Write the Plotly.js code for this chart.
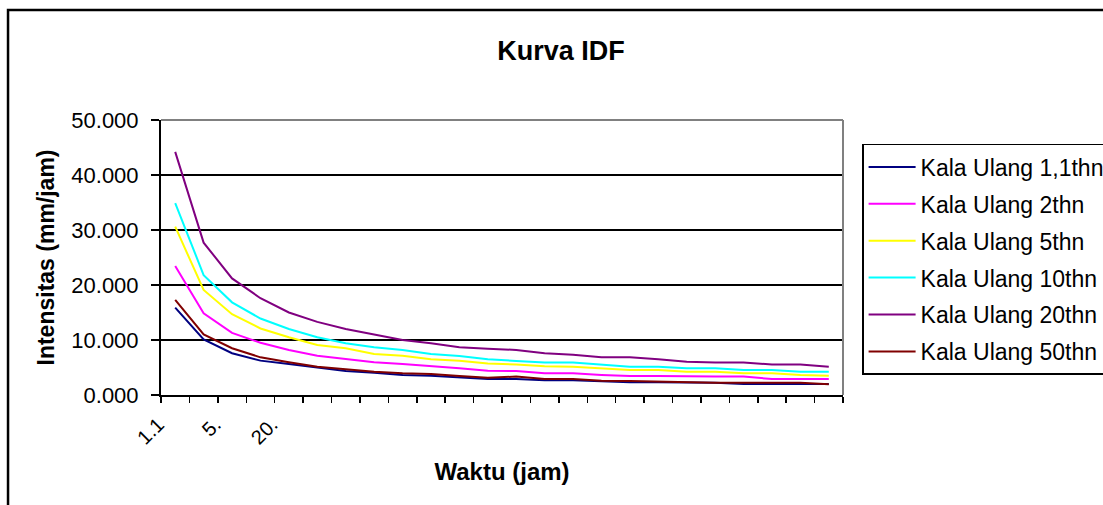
<!DOCTYPE html>
<html>
<head>
<meta charset="utf-8">
<script src="https://cdn.plot.ly/plotly-3.0.1.min.js"></script>
<style>html,body{margin:0;padding:0;background:#fff;}#chart{width:1103px;height:505px;}</style>
</head>
<body>
<div id="chart"></div>
<script>
// category positions (24 durations); only the first few carry labels in the reference
const categories = [1,2,3,4,5,6,7,8,9,10,11,12,13,14,15,16,17,18,19,20,21,22,23,24];
const tickPositions = [1, 3, 5];
const tickLabels = ["1.1", "5.", "20."];

const seriesNames = ["Kala Ulang 1,1thn", "Kala Ulang 2thn", "Kala Ulang 5thn", "Kala Ulang 10thn", "Kala Ulang 20thn", "Kala Ulang 50thn"];
const seriesColors = ["#000080", "#FF00FF", "#FFFF00", "#00FFFF", "#800080", "#800000"];

const kala1_1 = [15.9, 10.1, 7.6, 6.25, 5.65, 4.95, 4.35, 4.05, 3.65, 3.5, 3.15, 2.9, 2.9, 2.7, 2.7, 2.55, 2.3, 2.3, 2.25, 2.25, 2.0, 2.0, 2.0, 2.0];
const kala2   = [23.45, 14.85, 11.3, 9.5, 8.2, 7.15, 6.55, 5.95, 5.65, 5.3, 4.85, 4.4, 4.35, 3.95, 3.95, 3.65, 3.45, 3.45, 3.35, 3.35, 3.35, 2.9, 2.9, 2.9];
const kala5   = [30.6, 19.1, 14.7, 12.1, 10.5, 9.1, 8.5, 7.45, 7.15, 6.5, 6.25, 5.75, 5.55, 5.25, 5.15, 4.85, 4.55, 4.55, 4.25, 4.25, 3.95, 3.95, 3.65, 3.5];
const kala10  = [34.9, 21.8, 16.85, 13.9, 12.0, 10.5, 9.4, 8.7, 8.2, 7.45, 7.1, 6.5, 6.2, 5.9, 5.9, 5.55, 5.15, 5.15, 4.85, 4.85, 4.55, 4.55, 4.25, 4.25];
const kala20  = [44.2, 27.7, 21.2, 17.6, 15.0, 13.3, 12.0, 11.0, 10.0, 9.4, 8.7, 8.4, 8.2, 7.6, 7.3, 6.85, 6.85, 6.5, 6.05, 5.9, 5.9, 5.55, 5.55, 5.15];
const kala50  = [17.3, 11.0, 8.5, 6.85, 5.95, 5.15, 4.7, 4.25, 3.95, 3.8, 3.45, 3.15, 3.35, 2.9, 2.9, 2.6, 2.55, 2.45, 2.25, 2.25, 2.25, 2.25, 2.25, 1.95];
const seriesValues = [kala1_1, kala2, kala5, kala10, kala20, kala50];

const FONT = "Liberation Sans, Arial, sans-serif";

const traces = seriesValues.map((vals, i) => ({
  type: "scatter",
  mode: "lines",
  name: seriesNames[i],
  legendgroup: "g" + i,
  x: categories,
  y: vals,
  line: {color: seriesColors[i], width: 2},
  hoverinfo: "x+y+name"
}));

const layout = {
  width: 1103,
  height: 505,
  paper_bgcolor: "#ffffff",
  plot_bgcolor: "#ffffff",
  margin: {l: 161, r: 260, t: 120, b: 110, autoexpand: false},
  font: {family: FONT, color: "#000000", size: 20},
  title: {
    text: "<b>Kurva IDF</b>",
    font: {family: FONT, size: 27, color: "#000"},
    x: 0.5086, xref: "container", xanchor: "center",
    y: 0.90, yref: "container", yanchor: "middle"
  },
  xaxis: {
    range: [0.5, 24.5],
    tickmode: "array",
    tickvals: tickPositions,
    ticktext: tickLabels,
    tickangle: -45,
    ticks: "",
    tickfont: {family: FONT, size: 20},
    ticklabelshift: -17,
    ticklabelstandoff: 8,
    showgrid: false,
    zeroline: false,
    showline: true,
    linecolor: "#000",
    linewidth: 2,
    minor: {tick0: 0.5, dtick: 1, ticks: "outside", ticklen: 6, tickwidth: 1.5, tickcolor: "#000", showgrid: false},
    title: {text: "<b>Waktu (jam)</b>", font: {family: FONT, size: 24}, standoff: 16}
  },
  yaxis: {
    range: [0, 50],
    tickmode: "linear",
    tick0: 0,
    dtick: 10,
    tickformat: ".3f",
    ticks: "outside",
    ticklen: 8,
    tickwidth: 1.5,
    tickcolor: "#000",
    tickfont: {family: FONT, size: 22},
    ticklabelstandoff: 8,
    showgrid: true,
    gridcolor: "#000",
    gridwidth: 1.5,
    zeroline: false,
    showline: true,
    linecolor: "#000",
    linewidth: 2,
    title: {text: "<b>Intensitas (mm/jam)</b>", font: {family: FONT, size: 23}, standoff: 10}
  },
  legend: {
    x: 1.028, xanchor: "left",
    y: 0.913, yanchor: "top",
    bgcolor: "#ffffff",
    bordercolor: "#000",
    borderwidth: 1.5,
    font: {family: FONT, size: 23},
    tracegroupgap: 4,
    itemwidth: 47
  },
  shapes: [
    {type: "line", xref: "paper", yref: "paper", x0: 0, x1: 1, y0: 1, y1: 1, line: {color: "#808080", width: 2}},
    {type: "line", xref: "paper", yref: "paper", x0: 1, x1: 1, y0: 0, y1: 1, line: {color: "#808080", width: 2}},
    {type: "rect", xref: "paper", yref: "paper", x0: -0.2243, x1: 2, y0: -1, y1: 1.4, line: {color: "#000", width: 2.5}, fillcolor: "rgba(0,0,0,0)", layer: "above"}
  ],
  showlegend: true
};

Plotly.newPlot("chart", traces, layout, {displayModeBar: false, staticPlot: true});
</script>
</body>
</html>
